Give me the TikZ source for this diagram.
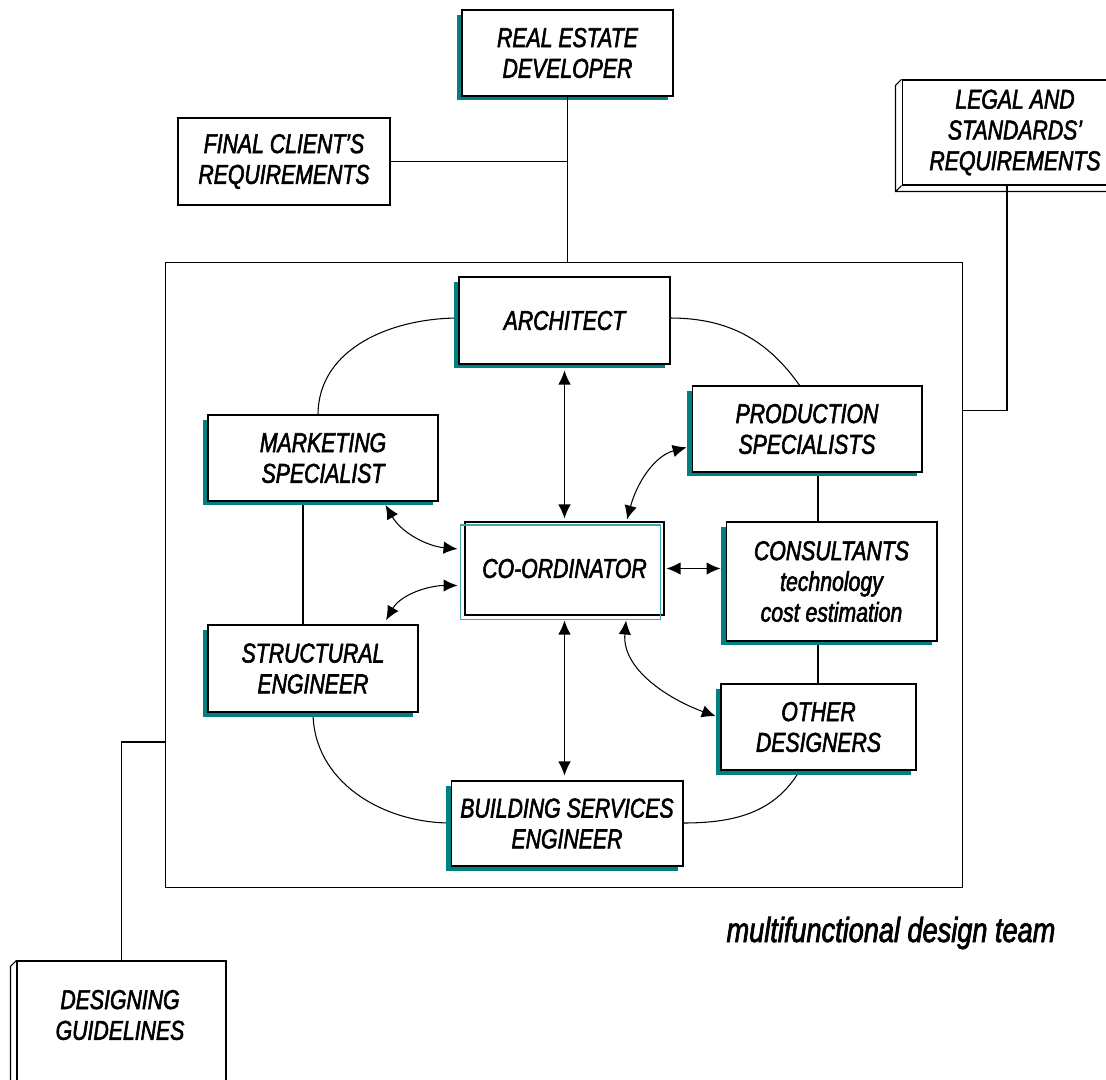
\documentclass[tikz,border=0pt]{standalone}
\usepackage{fontspec}
\setmainfont{Liberation Sans}[FakeStretch=0.78, FakeBold=2]
\usetikzlibrary{positioning,shadows,arrows.meta}
\definecolor{shadowteal}{RGB}{0,128,128}
\definecolor{lightteal}{RGB}{70,165,165}
\newcommand{\drawbevel}[1]{\draw (#1.north west) -- ++(-6,6) -- ([shift={(-6,6)}]#1.south west) -- ([shift={(-6,6)}]#1.south east) -- (#1.south east) (#1.south west) -- ++(-6,6);}

\begin{document}
\begin{tikzpicture}[
x=0.02cm, y=-0.02cm,
line width=0.6pt,
>={Latex[length=2.8mm,width=2.5mm]},
boxtext/.style={font=\fontsize{15.5}{17.5}\selectfont\itshape, align=center},
plainbox/.style={rectangle, draw, fill=white, boxtext},
tealbox/.style={plainbox, drop shadow={shadow xshift=-0.1cm, shadow yshift=-0.09cm, fill=shadowteal, opacity=1}}
]
\useasboundingbox (0,0) rectangle (1106,1079);

% the team
\node [draw, minimum width=15.96cm, minimum height=12.52cm] (team) at (564,575) {};
\node [font=\fontsize{19.8}{22}\selectfont\itshape] (caption) at (891,933) {multifunctional design team};

% outside the team
\node [tealbox, minimum width=4.22cm, minimum height=1.72cm] (dev) at (567.5,53) {REAL ESTATE\\DEVELOPER};
\node [plainbox, line width=1.4pt, minimum width=4.24cm, minimum height=1.74cm] (client) at (284,161.5) {FINAL CLIENT'S\\REQUIREMENTS};
\node [plainbox, minimum width=4.52cm, minimum height=2.1cm] (legal) at (1015,132.5) {LEGAL AND\\STANDARDS'\\REQUIREMENTS};
\node [plainbox, minimum width=4.18cm, minimum height=2.78cm] (guide) at (121.5,1030.5) {};
\node [boxtext] (guidetext) at (120,1015) {DESIGNING\\GUIDELINES};
\drawbevel{legal}
\drawbevel{guide}

\draw (dev.south) -- (dev.south |- team.north);
\draw (client.east) -- (client.east -| dev.south);
\draw ([xshift=-0.16cm]legal.south) |- ([yshift=3.3cm]team.east);
\draw (guide.north) |- ([yshift=-3.34cm]team.west);

% ring of designers
\coordinate (archc) at (564.5,320.5);
\draw (459,318) to[out=180,in=90] (318,415);
\draw (670,318) to[out=0,in=125] (800,386);
\draw (303,501) -- (303,625);
\draw (313,712) to[out=-90,in=180] (451,823);
\draw (683,823) to[out=0,in=-120] (800,770);
\draw (818,472) -- (818,522);
\draw (818,641) -- (818,684);

\node [tealbox, minimum width=4.22cm, minimum height=1.74cm] (arch) at (archc) {ARCHITECT};
\node [tealbox, minimum width=4.6cm, minimum height=1.72cm] (prod) at (807,429) {PRODUCTION\\SPECIALISTS};
\node [tealbox, minimum width=4.6cm, minimum height=1.72cm] (mkt) at (323,458) {MARKETING\\SPECIALIST};
\node [tealbox, minimum width=4.22cm, minimum height=2.38cm] (cons) at (831.5,581.5) {CONSULTANTS\\technology\\cost estimation};
\node [tealbox, minimum width=4.2cm, minimum height=1.74cm] (struct) at (313,668.5) {STRUCTURAL\\ENGINEER};
\node [tealbox, minimum width=3.9cm, minimum height=1.72cm] (other) at (818.5,727) {OTHER\\DESIGNERS};
\node [tealbox, minimum width=4.64cm, minimum height=1.7cm] (bldg) at (567,823.5) {BUILDING SERVICES\\ENGINEER};
\node [plainbox, minimum width=3.98cm, minimum height=1.86cm] (coord) at (564.5,568.5) {CO-ORDINATOR};
\draw [lightteal] ([shift={(-4,3.5)}]coord.south west) rectangle ([shift={(-4,3.5)}]coord.north east);

% links to the co-ordinator
\draw [<->, shorten <=0.12cm, shorten >=0.06cm] (arch.south) -- (coord.north);
\draw [<->, shorten <=0.1cm, shorten >=0.1cm] (coord.south) -- (coord.south |- bldg.north);
\draw [<->, shorten <=0.04cm, shorten >=0.1cm] (coord.east) -- (coord.east -| cons.west);
\draw [<->, shorten <=0.08cm, shorten >=0.14cm] ([xshift=-1.1cm]mkt.south east) to[out=-60,in=175] ([yshift=0.38cm]coord.west);
\draw [<->, shorten <=0.1cm, shorten >=0.14cm] ([xshift=-0.7cm]struct.north east) to[out=60,in=180] ([yshift=-0.34cm]coord.west);
\draw [<->, shorten <=0.1cm, shorten >=0.04cm] ([yshift=-0.34cm]prod.west) to[out=195,in=75] ([xshift=1.24cm]coord.north);
\draw [<->, shorten <=0.1cm, shorten >=0.1cm] ([xshift=1.24cm]coord.south) to[out=-95,in=160] ([yshift=0.18cm]other.west);
\end{tikzpicture}
\end{document}
